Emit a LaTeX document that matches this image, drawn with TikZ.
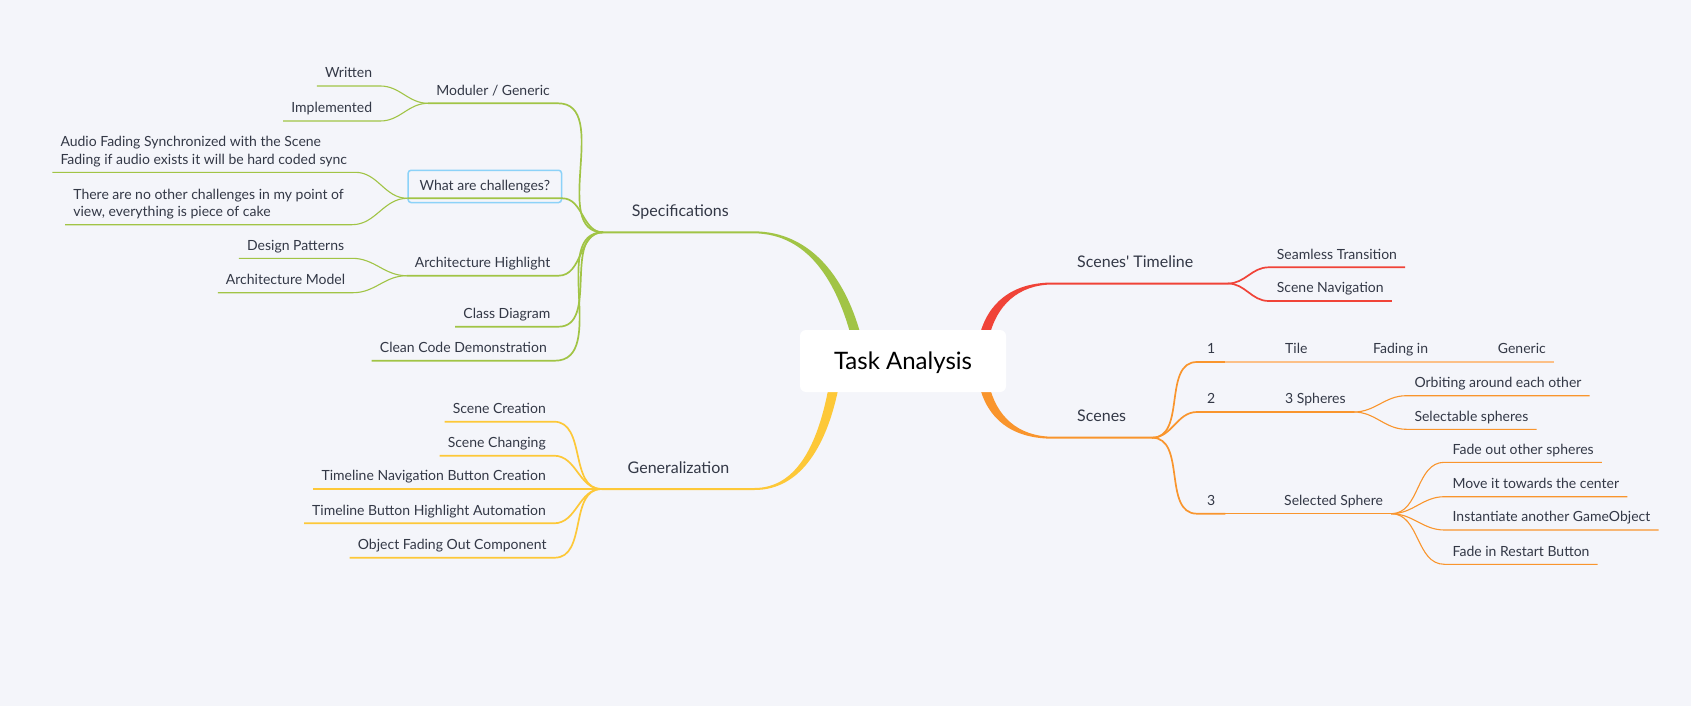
\documentclass[tikz,border=0pt]{standalone}
\usepackage{fontspec}
\setmainfont{Lato}
\usetikzlibrary{calc,backgrounds}
\definecolor{paper}{RGB}{244,245,250}
\definecolor{ink}{RGB}{51,56,70}
\definecolor{cg}{RGB}{161,196,69}
\definecolor{cy}{RGB}{253,200,56}
\definecolor{cr}{RGB}{240,67,56}
\definecolor{co}{RGB}{249,149,45}
\definecolor{cpeach}{RGB}{252,192,135}
\definecolor{sky}{RGB}{140,210,248}
\begin{document}
\begin{tikzpicture}
[x=1pt, y=-1pt, font=\fontsize{14}{17.4}\selectfont,
 leaf/.style={text=ink, inner xsep=8pt, inner ysep=5pt, text depth=3pt, align=left},
 lleaf/.style={leaf, anchor=south east},
 rleaf/.style={leaf, anchor=south west},
 topic/.style={text=ink, font=\fontsize{16}{19}\selectfont, inner xsep=8pt, inner ysep=11.6pt, text depth=4pt, anchor=south west},
 rootbox/.style={fill=white, rounded corners=6pt, minimum width=206pt, minimum height=62pt, text height=17.3pt, text depth=0pt, font=\fontsize{24}{28}\selectfont},
 sub/.style={line width=1.7pt},
 twig/.style={line width=1.1pt}]
\useasboundingbox (0,0) rectangle (1691,706);
\node[rootbox] (root) at (903,361) {Task Analysis};
\coordinate (fs) at (603,232.3);
\coordinate (fg) at (601.5,489);
\coordinate (ft) at (1228,283.5);
\coordinate (fc) at (1152,437.7);
\begin{scope}[on background layer]
\fill[paper] (0,0) rectangle (1691,706);
\fill[cg] ([yshift=1pt]fs) -- ++(150,0) .. controls +(59,0) and +(-15,-60) .. ($(root.north)+(-41,10)$) -- ++(-10,0) .. controls +(-15,-58) and +(55,0) .. ($(fs)+(150,1)$) -- ([yshift=-1pt]fs) -- cycle;
\fill[cy] ([yshift=1pt]fg) -- ++(153,0) .. controls +(44,0) and +(-10,55) .. ($(root.south)+(-74,-7)$) -- ++(10,0) .. controls +(-11,57) and +(48,0) .. ($(fg)+(153,1)$) -- ([yshift=-1pt]fg) -- cycle;
\fill[cr] ([yshift=1pt]ft) -- ++(-175,0) .. controls +(-41,0) and +(8,-35) .. ($(root.north)+(76,8)$) -- ++(10,0) .. controls +(7,-32) and +(-35,0) .. ($(ft)+(-175,1)$) -- ([yshift=-1pt]ft) -- cycle;
\fill[co] ([yshift=-1pt]fc) -- ++(-99,0) .. controls +(-41,0) and +(8,35) .. ($(root.south)+(76,-8)$) -- ++(10,0) .. controls +(7,32) and +(-35,0) .. ($(fc)+(-99,-1)$) -- ([yshift=1pt]fc) -- cycle;
\end{scope}

\node[topic] (specs) at (623.7,232.3) {Specifications};
\node[topic] (gen) at (619.5,489) {Generalization};
\node[topic] (tl) at (1069,283.3) {Scenes\textquotesingle\ Timeline};
\node[topic] (scenes) at (1069,437.7) {Scenes};

\node[lleaf] (mod) at (558,103.3) {Moduler / Generic};
\node[lleaf, draw=sky, line width=1.5pt, rounded corners=3pt, inner xsep=11.5pt, minimum height=32.3pt] (chal) at (562.3,203.3) {What are challenges?};
\node[lleaf] (arch) at (558.5,275.7) {Architecture Highlight};
\node[lleaf] (cls) at (558.5,326.7) {Class Diagram};
\node[lleaf] (clean) at (555,360.7) {Clean Code Demonstration};
\node[lleaf] (wr) at (380.3,86) {Written};
\node[lleaf] (imp) at (380.3,121) {Implemented};
\node[lleaf] (audio) at (355.3,172.3) {Audio Fading Synchronized with the Scene\\Fading if audio exists it will be hard coded sync};
\node[lleaf] (other) at (352,224.7) {There are no other challenges in my point of\\view, everything is piece of cake};
\node[lleaf] (dp) at (352.3,258.3) {Design Patterns};
\node[lleaf] (am) at (353.2,292.7) {Architecture Model};
\node[lleaf] (screa) at (554,421.7) {Scene Creation};
\node[lleaf] (schan) at (554,455.7) {Scene Changing};
\node[lleaf] (tnav) at (554,489) {Timeline Navigation Button Creation};
\node[lleaf] (thigh) at (554,523.3) {Timeline Button Highlight Automation};
\node[lleaf] (ofade) at (554.7,557.7) {Object Fading Out Component};

\node[rleaf] (seam) at (1268.7,267.3) {Seamless Transition};
\node[rleaf] (snav) at (1268.7,301) {Scene Navigation};
\node[rleaf, minimum width=28pt] (n1) at (1197,362) {1};
\node[rleaf] (tile) at (1277,362) {Tile};
\node[rleaf] (fadin) at (1365,362) {Fading in};
\node[rleaf] (gnrc) at (1489.7,362) {Generic};
\node[rleaf, minimum width=28pt] (n2) at (1197,412) {2};
\node[rleaf] (sph) at (1277,412) {3 Spheres};
\node[rleaf] (orb) at (1406.3,395.7) {Orbiting around each other};
\node[rleaf] (sel) at (1406.3,429.3) {Selectable spheres};
\node[rleaf, minimum width=28pt] (n3) at (1197,513.7) {3};
\node[rleaf] (ssph) at (1276,513.7) {Selected Sphere};
\node[rleaf] (fout) at (1444.4,462.3) {Fade out other spheres};
\node[rleaf] (mv) at (1444.4,496.7) {Move it towards the center};
\node[rleaf] (inst) at (1444.4,530) {Instantiate another GameObject};
\node[rleaf] (fin) at (1444.4,564.3) {Fade in Restart Button};

\draw[cg, sub] (fs) to[out=180,in=0] (mod.south east) -- (mod.south west);
\draw[cg, sub] (fs) to[out=180,in=0] ([yshift=5pt]chal.south east) -- ([yshift=5pt]chal.south west);
\draw[cg, sub] (fs) to[out=180,in=0] (arch.south east) -- (arch.south west);
\draw[cg, sub] (fs) to[out=180,in=0] (cls.south east) -- (cls.south west);
\draw[cg, sub] (fs) to[out=180,in=0] (clean.south east) -- (clean.south west);
\draw[cg, twig] (mod.south west) to[out=180,in=0] (wr.south east) -- (wr.south west);
\draw[cg, twig] (mod.south west) to[out=180,in=0] (imp.south east) -- (imp.south west);
\draw[cg, twig] ([yshift=5pt]chal.south west) to[out=180,in=0] (audio.south east) -- (audio.south west);
\draw[cg, twig] ([yshift=5pt]chal.south west) to[out=180,in=0] (other.south east) -- (other.south west);
\draw[cg, twig] (arch.south west) to[out=180,in=0] (dp.south east) -- (dp.south west);
\draw[cg, twig] (arch.south west) to[out=180,in=0] (am.south east) -- (am.south west);

\draw[cy, sub] (fg) to[out=180,in=0] (screa.south east) -- (screa.south west);
\draw[cy, sub] (fg) to[out=180,in=0] (schan.south east) -- (schan.south west);
\draw[cy, sub] (fg) -- (tnav.south east) -- (tnav.south west);
\draw[cy, sub] (fg) to[out=180,in=0] (thigh.south east) -- (thigh.south west);
\draw[cy, sub] (fg) to[out=180,in=0] (ofade.south east) -- (ofade.south west);

\draw[cr, sub] (ft) to[out=0,in=180] (seam.south west) -- (seam.south east);
\draw[cr, sub] (ft) to[out=0,in=180] (snav.south west) -- (snav.south east);

\draw[co, sub] (fc) to[out=0,in=180] (n1.south west) -- (n1.south east);
\draw[co, sub] (fc) to[out=0,in=180] (n2.south west) -- (n2.south east);
\draw[co, sub] (fc) to[out=0,in=180] (n3.south west) -- (n3.south east);
\draw[cpeach, twig] (n1.south east) -- (tile.south west) -- (tile.south east) -- (fadin.south west) -- (fadin.south east) -- (gnrc.south west) -- (gnrc.south east);
\draw[co, twig] (n2.south east) -- (sph.south west) -- (sph.south east);
\draw[co, twig] (sph.south east) to[out=0,in=180] (orb.south west) -- (orb.south east);
\draw[co, twig] (sph.south east) to[out=0,in=180] (sel.south west) -- (sel.south east);
\draw[co, twig] (n3.south east) -- (ssph.south west) -- (ssph.south east);
\draw[co, twig] (ssph.south east) to[out=0,in=180] (fout.south west) -- (fout.south east);
\draw[co, twig] (ssph.south east) to[out=0,in=180] (mv.south west) -- (mv.south east);
\draw[co, twig] (ssph.south east) to[out=0,in=180] (inst.south west) -- (inst.south east);
\draw[co, twig] (ssph.south east) to[out=0,in=180] (fin.south west) -- (fin.south east);
\end{tikzpicture}
\end{document}
